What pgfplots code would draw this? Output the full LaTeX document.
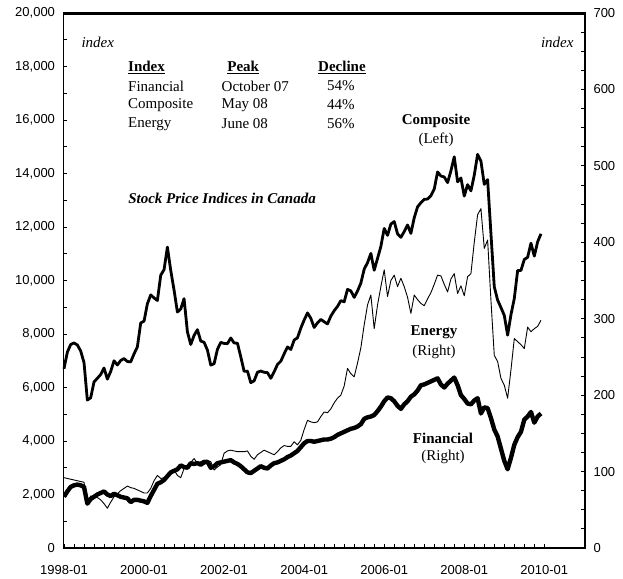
\documentclass[border=0pt]{standalone}
\usepackage{fontspec}
\setmainfont{Liberation Serif}
\newfontfamily\arialf{Liberation Sans}
\usepackage{pgfplots}
\usepackage{pgfplotstable}
\pgfplotsset{compat=1.18}

\pgfplotstableread{
m comp energy fin
0 6700 92 67
1 7318 91 74
2 7607 90 80
3 7665 89 82
4 7590 88 83
5 7367 87 82
6 6931 86 80
7 5531 59 58
8 5614 68 64
9 6208 68 67
10 6344 66 70
11 6486 63 72
12 6730 58 74
13 6313 52 70
14 6598 60 68
15 6999 67 71
16 6842 71 69
17 7010 75 67
18 7081 78 66
19 6971 81 65
20 6958 79 60
21 7256 78 63
22 7520 76 63
23 8414 74 62
24 8481 72 61
25 9129 72 59
26 9462 78 68
27 9348 88 76
28 9252 95 84
29 10196 91 86
30 10406 92 89
31 11248 93 94
32 10378 98 99
33 9640 102 101
34 8820 95 103
35 8934 92 108
36 9322 104 106
37 8079 108 105
38 7608 112 111
39 7947 117 110
40 8162 111 111
41 7736 113 109
42 7690 115 112
43 7399 114 113
44 6839 113 105
45 6886 102 107
46 7426 106 111
47 7688 109 112
48 7648 124 113
49 7638 127 114
50 7851 128 115
51 7663 127 112
52 7656 126 110
53 7146 126 107
54 6605 126 103
55 6612 127 99
56 6180 120 98
57 6249 116 101
58 6570 122 104
59 6615 125 107
60 6569 128 105
61 6555 126 104
62 6343 124 108
63 6586 122 111
64 6860 126 112
65 6983 131 114
66 7258 134 116
67 7517 133 119
68 7421 133 121
69 7773 139 124
70 7859 135 127
71 8221 141 132
72 8521 155 137
73 8789 167 140
74 8586 165 140
75 8244 164 139
76 8417 165 140
77 8546 172 141
78 8458 178 142
79 8377 177 142
80 8668 182 143
81 8871 190 145
82 9030 196 148
83 9247 200 150
84 9204 212 152
85 9668 235 154
86 9612 228 156
87 9369 224 157
88 9607 242 159
89 9903 262 162
90 10423 292 169
91 10669 318 171
92 11012 331 172
93 10383 287 174
94 10825 318 179
95 11272 342 185
96 11946 364 192
97 11688 329 197
98 12111 350 196
99 12204 357 192
100 11745 342 186
101 11613 353 182
102 11831 342 188
103 12074 328 192
104 11761 307 198
105 12345 331 201
106 12752 325 206
107 12908 320 213
108 13034 317 214
109 13045 326 216
110 13166 334 218
111 13417 345 220
112 14057 357 222
113 13907 356 214
114 13869 345 210
115 13660 335 215
116 14099 352 219
117 14625 359 223
118 13689 333 213
119 13833 343 200
120 13155 330 195
121 13583 355 189
122 13350 359 188
123 13937 400 193
124 14715 436 196
125 14467 444 176
126 13593 392 184
127 13771 403 183
128 11753 324 170
129 9763 252 155
130 9271 244 146
131 8988 222 130
132 8695 213 114
133 7957 196 103
134 8720 233 118
135 9325 274 135
136 10370 270 145
137 10375 266 152
138 10787 261 168
139 10868 289 172
140 11395 283 178
141 10911 287 164
142 11447 290 172
143 11746 298 176
}\data

\pgfplotsset{
  common/.style={
    scale only axis, width=521.5bp, height=535bp,
    xmin=-0.15, xmax=156.2,
    axis line style={line width=1.8bp},
    tick align=inside,
    major tick length=4bp, minor tick length=4bp,
    tick style={black, line width=0.8bp},
    ticklabel style={font=\arialf\fontsize{13bp}{15bp}\selectfont},
    /pgf/number format/assume math mode=true,
    /pgf/number format/1000 sep={,},
    scaled y ticks=false,
  }
}

\begin{document}
\begin{tikzpicture}
\begin{axis}[common, name=ax,
  ymin=0, ymax=20000,
  xtick={0,24,...,144},
  xticklabels={1998-01,2000-01,2002-01,2004-01,2006-01,2008-01,2010-01},
  minor x tick num=7,
  ytick={0,2000,...,20000}, minor y tick num=1,
  xtick pos=lower, ytick pos=left,
  yticklabel style={xshift=-5bp},
  xticklabel style={yshift=-14bp},
  clip=false,
]
\addplot[black, line width=2.8bp, line join=round] table[x=m, y=comp]{\data};

\node[anchor=west, font=\fontsize{15bp}{18bp}\selectfont\itshape] at (rel axis cs:0.0278,0.9458) {index};
\node[anchor=east, font=\fontsize{15bp}{18bp}\selectfont\itshape] at (rel axis cs:0.9847,0.9458) {index};

\begin{scope}[every node/.style={font=\fontsize{15bp}{18bp}\selectfont, inner sep=0pt}]
\node[anchor=west] at (rel axis cs:0.1237,0.899) {\textbf{\underline{Index}}};
\node[anchor=west] at (rel axis cs:0.1237,0.8636) {Financial};
\node[anchor=west] at (rel axis cs:0.1237,0.828) {Composite};
\node[anchor=west] at (rel axis cs:0.1237,0.7925) {Energy};
\node at (rel axis cs:0.3446,0.899) {\textbf{\underline{Peak}}};
\node[anchor=west] at (rel axis cs:0.3030,0.8636) {October 07};
\node[anchor=west] at (rel axis cs:0.3030,0.828) {May 08};
\node[anchor=west] at (rel axis cs:0.3030,0.7925) {June 08};
\node at (rel axis cs:0.534,0.899) {\textbf{\underline{Decline}}};
\node at (rel axis cs:0.532,0.8636) {54\%};
\node at (rel axis cs:0.532,0.828) {44\%};
\node at (rel axis cs:0.532,0.7925) {56\%};
\node at (rel axis cs:0.3040,0.6542) {\textbf{\textit{Stock Price Indices in Canada}}};
\node at (rel axis cs:0.7143,0.7981) {\textbf{Composite}};
\node at (rel axis cs:0.7143,0.7626) {(Left)};
\node at (rel axis cs:0.7105,0.4037) {\textbf{Energy}};
\node at (rel axis cs:0.7105,0.3664) {(Right)};
\node at (rel axis cs:0.7277,0.2056) {\textbf{Financial}};
\node at (rel axis cs:0.7277,0.1701) {(Right)};
\end{scope}
\end{axis}

\begin{axis}[common,
  ymin=0, ymax=700,
  axis x line=none,
  axis y line*=right,
  ytick={0,100,...,700}, minor y tick num=3,
  yticklabel style={xshift=5bp},
]
\addplot[black, line width=0.9bp, line join=round] table[x=m, y=energy]{\data};
\addplot[black, line width=4.4bp, line join=round] table[x=m, y=fin]{\data};
\end{axis}

\draw[black, line width=2bp] ([yshift=-0.6bp]ax.north west) -- ([yshift=-0.6bp]ax.north east);

\pgfresetboundingbox
\path[use as bounding box] ([xshift=-63.5bp,yshift=-31bp]ax.south west) rectangle ([xshift=38bp,yshift=13bp]ax.north east);
\end{tikzpicture}
\end{document}
